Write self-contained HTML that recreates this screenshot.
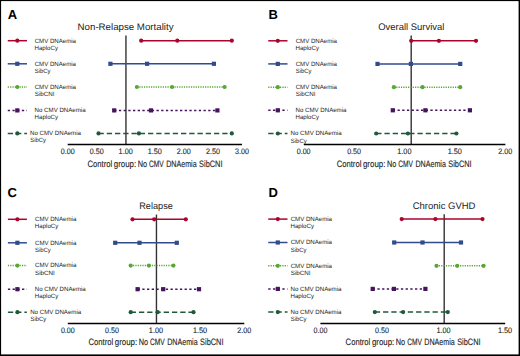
<!DOCTYPE html>
<html><head><meta charset="utf-8"><style>
html,body{margin:0;padding:0;background:#fff;width:520px;height:356px;overflow:hidden;}
svg{display:block;font-family:"Liberation Sans",sans-serif;text-rendering:geometricPrecision;}
</style></head><body>
<svg width="520" height="356" viewBox="0 0 520 356">
<rect x="0" y="0" width="520" height="356" fill="#fff"/>
<text x="7.8" y="18.7" font-size="13" font-weight="bold" fill="#000">A</text>
<text x="77.62" y="29.70" font-size="9.5" fill="#222" textLength="95.88" lengthAdjust="spacingAndGlyphs">Non-Relapse Mortality</text>
<line x1="125.95" y1="35.5" x2="125.95" y2="144.45" stroke="#333" stroke-width="1.4"/>
<line x1="67.7" y1="144.45" x2="242" y2="144.45" stroke="#000" stroke-width="1.5"/>
<text x="60.79" y="153.75" font-size="7.9" fill="#222" textLength="13.87" lengthAdjust="spacingAndGlyphs" stroke="#222" stroke-width="0.1">0.00</text>
<text x="89.84" y="153.75" font-size="7.9" fill="#222" textLength="13.87" lengthAdjust="spacingAndGlyphs" stroke="#222" stroke-width="0.1">0.50</text>
<text x="118.59" y="153.75" font-size="7.9" fill="#222" textLength="14.17" lengthAdjust="spacingAndGlyphs" stroke="#222" stroke-width="0.1">1.00</text>
<text x="147.64" y="153.75" font-size="7.9" fill="#222" textLength="14.17" lengthAdjust="spacingAndGlyphs" stroke="#222" stroke-width="0.1">1.50</text>
<text x="176.84" y="153.75" font-size="7.9" fill="#222" textLength="14.02" lengthAdjust="spacingAndGlyphs" stroke="#222" stroke-width="0.1">2.00</text>
<text x="205.89" y="153.75" font-size="7.9" fill="#222" textLength="14.02" lengthAdjust="spacingAndGlyphs" stroke="#222" stroke-width="0.1">2.50</text>
<text x="235.09" y="153.75" font-size="7.9" fill="#222" textLength="13.87" lengthAdjust="spacingAndGlyphs" stroke="#222" stroke-width="0.1">3.00</text>
<text x="87.52" y="167.00" font-size="9.2" fill="#222" textLength="24.66" lengthAdjust="spacingAndGlyphs" stroke="#222" stroke-width="0.12">Control</text>
<text x="113.78" y="167.00" font-size="9.2" fill="#222" textLength="22.41" lengthAdjust="spacingAndGlyphs" stroke="#222" stroke-width="0.12">group:</text>
<text x="137.71" y="167.00" font-size="9.2" fill="#222" textLength="9.35" lengthAdjust="spacingAndGlyphs" stroke="#222" stroke-width="0.12">No</text>
<text x="149.07" y="167.00" font-size="9.2" fill="#222" textLength="14.71" lengthAdjust="spacingAndGlyphs" stroke="#222" stroke-width="0.12">CMV</text>
<text x="166.23" y="167.00" font-size="9.2" fill="#222" textLength="30.44" lengthAdjust="spacingAndGlyphs" stroke="#222" stroke-width="0.12">DNAemia</text>
<text x="199.11" y="167.00" font-size="9.2" fill="#222" textLength="23.34" lengthAdjust="spacingAndGlyphs" stroke="#222" stroke-width="0.12">SibCNI</text>
<line x1="7.75" y1="40.7" x2="27" y2="40.7" stroke="#aa032c" stroke-width="1.5"/>
<circle cx="17.3" cy="40.7" r="2.1" fill="#aa032c"/>
<text x="34.70" y="42.55" font-size="6.2" fill="#222" textLength="41.28" lengthAdjust="spacingAndGlyphs">CMV DNAemia</text>
<text x="34.51" y="49.75" font-size="6.2" fill="#222" textLength="23.49" lengthAdjust="spacingAndGlyphs">HaploCy</text>
<line x1="141.2" y1="40.7" x2="231.8" y2="40.7" stroke="#aa032c" stroke-width="1.5"/>
<circle cx="141.2" cy="40.7" r="2.1" fill="#aa032c"/>
<circle cx="177.3" cy="40.7" r="2.1" fill="#aa032c"/>
<circle cx="231.8" cy="40.7" r="2.1" fill="#aa032c"/>
<line x1="7.75" y1="63.8" x2="27" y2="63.8" stroke="#2f4d8c" stroke-width="1.5"/>
<rect x="15.20" y="61.70" width="4.2" height="4.2" fill="#2f4d8c"/>
<text x="34.70" y="65.65" font-size="6.2" fill="#222" textLength="41.28" lengthAdjust="spacingAndGlyphs">CMV DNAemia</text>
<text x="34.76" y="72.85" font-size="6.2" fill="#222" textLength="15.74" lengthAdjust="spacingAndGlyphs">SibCy</text>
<line x1="110.4" y1="63.8" x2="213.9" y2="63.8" stroke="#2f4d8c" stroke-width="1.5"/>
<rect x="108.30" y="61.70" width="4.2" height="4.2" fill="#2f4d8c"/>
<rect x="145.00" y="61.70" width="4.2" height="4.2" fill="#2f4d8c"/>
<rect x="211.80" y="61.70" width="4.2" height="4.2" fill="#2f4d8c"/>
<line x1="7.75" y1="87" x2="27" y2="87" stroke="#58a633" stroke-width="1.5" stroke-dasharray="1.2 1.15"/>
<circle cx="17.3" cy="87" r="2.1" fill="#58a633"/>
<text x="34.70" y="88.85" font-size="6.2" fill="#222" textLength="41.28" lengthAdjust="spacingAndGlyphs">CMV DNAemia</text>
<text x="34.75" y="96.05" font-size="6.2" fill="#222" textLength="19.80" lengthAdjust="spacingAndGlyphs">SibCNI</text>
<line x1="136.9" y1="87" x2="224.6" y2="87" stroke="#58a633" stroke-width="1.5" stroke-dasharray="1.2 1.15"/>
<circle cx="136.9" cy="87" r="2.1" fill="#58a633"/>
<circle cx="172.1" cy="87" r="2.1" fill="#58a633"/>
<circle cx="224.6" cy="87" r="2.1" fill="#58a633"/>
<line x1="7.75" y1="110.4" x2="27" y2="110.4" stroke="#46135f" stroke-width="1.5" stroke-dasharray="2.3 2.4"/>
<rect x="15.20" y="108.30" width="4.2" height="4.2" fill="#46135f"/>
<text x="34.61" y="112.25" font-size="6.2" fill="#222" textLength="50.97" lengthAdjust="spacingAndGlyphs">No CMV DNAemia</text>
<text x="34.61" y="119.45" font-size="6.2" fill="#222" textLength="23.49" lengthAdjust="spacingAndGlyphs">HaploCy</text>
<line x1="114.2" y1="110.4" x2="217.4" y2="110.4" stroke="#46135f" stroke-width="1.5" stroke-dasharray="2.3 2.4"/>
<rect x="112.10" y="108.30" width="4.2" height="4.2" fill="#46135f"/>
<rect x="148.90" y="108.30" width="4.2" height="4.2" fill="#46135f"/>
<rect x="215.30" y="108.30" width="4.2" height="4.2" fill="#46135f"/>
<line x1="7.75" y1="133.4" x2="27" y2="133.4" stroke="#20583a" stroke-width="1.5" stroke-dasharray="5.3 2.95"/>
<circle cx="17.3" cy="133.4" r="2.1" fill="#20583a"/>
<text x="30.01" y="135.25" font-size="6.2" fill="#222" textLength="50.97" lengthAdjust="spacingAndGlyphs">No CMV DNAemia</text>
<text x="30.26" y="142.45" font-size="6.2" fill="#222" textLength="15.74" lengthAdjust="spacingAndGlyphs">SibCy</text>
<line x1="98.5" y1="133.4" x2="231.8" y2="133.4" stroke="#20583a" stroke-width="1.5" stroke-dasharray="5.3 2.95"/>
<circle cx="98.5" cy="133.4" r="2.1" fill="#20583a"/>
<circle cx="138.9" cy="133.4" r="2.1" fill="#20583a"/>
<circle cx="231.8" cy="133.4" r="2.1" fill="#20583a"/>
<text x="268.4" y="18.7" font-size="13" font-weight="bold" fill="#000">B</text>
<text x="378.22" y="29.90" font-size="9.5" fill="#222" textLength="66.17" lengthAdjust="spacingAndGlyphs">Overall Survival</text>
<line x1="411.2" y1="35.4" x2="411.2" y2="144.45" stroke="#333" stroke-width="1.4"/>
<line x1="303.8" y1="144.45" x2="505.4" y2="144.45" stroke="#000" stroke-width="1.5"/>
<text x="296.69" y="153.75" font-size="7.9" fill="#222" textLength="13.87" lengthAdjust="spacingAndGlyphs" stroke="#222" stroke-width="0.1">0.00</text>
<text x="347.14" y="153.75" font-size="7.9" fill="#222" textLength="13.87" lengthAdjust="spacingAndGlyphs" stroke="#222" stroke-width="0.1">0.50</text>
<text x="397.29" y="153.75" font-size="7.9" fill="#222" textLength="14.17" lengthAdjust="spacingAndGlyphs" stroke="#222" stroke-width="0.1">1.00</text>
<text x="447.74" y="153.75" font-size="7.9" fill="#222" textLength="14.17" lengthAdjust="spacingAndGlyphs" stroke="#222" stroke-width="0.1">1.50</text>
<text x="498.34" y="153.75" font-size="7.9" fill="#222" textLength="14.02" lengthAdjust="spacingAndGlyphs" stroke="#222" stroke-width="0.1">2.00</text>
<text x="336.72" y="167.00" font-size="9.2" fill="#222" textLength="24.66" lengthAdjust="spacingAndGlyphs" stroke="#222" stroke-width="0.12">Control</text>
<text x="362.98" y="167.00" font-size="9.2" fill="#222" textLength="22.41" lengthAdjust="spacingAndGlyphs" stroke="#222" stroke-width="0.12">group:</text>
<text x="386.91" y="167.00" font-size="9.2" fill="#222" textLength="9.35" lengthAdjust="spacingAndGlyphs" stroke="#222" stroke-width="0.12">No</text>
<text x="398.27" y="167.00" font-size="9.2" fill="#222" textLength="14.71" lengthAdjust="spacingAndGlyphs" stroke="#222" stroke-width="0.12">CMV</text>
<text x="415.43" y="167.00" font-size="9.2" fill="#222" textLength="30.44" lengthAdjust="spacingAndGlyphs" stroke="#222" stroke-width="0.12">DNAemia</text>
<text x="448.31" y="167.00" font-size="9.2" fill="#222" textLength="23.34" lengthAdjust="spacingAndGlyphs" stroke="#222" stroke-width="0.12">SibCNI</text>
<line x1="268.25" y1="40.8" x2="287.5" y2="40.8" stroke="#aa032c" stroke-width="1.5"/>
<circle cx="277.8" cy="40.8" r="2.1" fill="#aa032c"/>
<text x="295.70" y="42.65" font-size="6.2" fill="#222" textLength="41.28" lengthAdjust="spacingAndGlyphs">CMV DNAemia</text>
<text x="295.51" y="49.85" font-size="6.2" fill="#222" textLength="23.49" lengthAdjust="spacingAndGlyphs">HaploCy</text>
<line x1="411.2" y1="40.8" x2="476" y2="40.8" stroke="#aa032c" stroke-width="1.5"/>
<circle cx="411.2" cy="40.8" r="2.1" fill="#aa032c"/>
<circle cx="438.9" cy="40.8" r="2.1" fill="#aa032c"/>
<circle cx="476" cy="40.8" r="2.1" fill="#aa032c"/>
<line x1="268.25" y1="63.9" x2="287.5" y2="63.9" stroke="#2f4d8c" stroke-width="1.5"/>
<rect x="275.70" y="61.80" width="4.2" height="4.2" fill="#2f4d8c"/>
<text x="295.70" y="65.75" font-size="6.2" fill="#222" textLength="41.28" lengthAdjust="spacingAndGlyphs">CMV DNAemia</text>
<text x="295.76" y="72.95" font-size="6.2" fill="#222" textLength="15.74" lengthAdjust="spacingAndGlyphs">SibCy</text>
<line x1="377.5" y1="63.9" x2="460.2" y2="63.9" stroke="#2f4d8c" stroke-width="1.5"/>
<rect x="375.40" y="61.80" width="4.2" height="4.2" fill="#2f4d8c"/>
<rect x="408.80" y="61.80" width="4.2" height="4.2" fill="#2f4d8c"/>
<rect x="458.10" y="61.80" width="4.2" height="4.2" fill="#2f4d8c"/>
<line x1="268.25" y1="87.2" x2="287.5" y2="87.2" stroke="#58a633" stroke-width="1.5" stroke-dasharray="1.2 1.15"/>
<circle cx="277.8" cy="87.2" r="2.1" fill="#58a633"/>
<text x="295.70" y="89.05" font-size="6.2" fill="#222" textLength="41.28" lengthAdjust="spacingAndGlyphs">CMV DNAemia</text>
<text x="295.75" y="96.25" font-size="6.2" fill="#222" textLength="19.80" lengthAdjust="spacingAndGlyphs">SibCNI</text>
<line x1="393.9" y1="87.2" x2="460.2" y2="87.2" stroke="#58a633" stroke-width="1.5" stroke-dasharray="1.2 1.15"/>
<circle cx="393.9" cy="87.2" r="2.1" fill="#58a633"/>
<circle cx="422.5" cy="87.2" r="2.1" fill="#58a633"/>
<circle cx="460.2" cy="87.2" r="2.1" fill="#58a633"/>
<line x1="268.25" y1="110.3" x2="287.5" y2="110.3" stroke="#46135f" stroke-width="1.5" stroke-dasharray="2.3 2.4"/>
<rect x="275.70" y="108.20" width="4.2" height="4.2" fill="#46135f"/>
<text x="295.51" y="112.15" font-size="6.2" fill="#222" textLength="50.97" lengthAdjust="spacingAndGlyphs">No CMV DNAemia</text>
<text x="295.51" y="119.35" font-size="6.2" fill="#222" textLength="23.49" lengthAdjust="spacingAndGlyphs">HaploCy</text>
<line x1="392.8" y1="110.3" x2="469.9" y2="110.3" stroke="#46135f" stroke-width="1.5" stroke-dasharray="2.3 2.4"/>
<rect x="390.70" y="108.20" width="4.2" height="4.2" fill="#46135f"/>
<rect x="423.30" y="108.20" width="4.2" height="4.2" fill="#46135f"/>
<rect x="467.80" y="108.20" width="4.2" height="4.2" fill="#46135f"/>
<line x1="268.25" y1="133.5" x2="287.5" y2="133.5" stroke="#20583a" stroke-width="1.5" stroke-dasharray="5.3 2.95"/>
<circle cx="277.8" cy="133.5" r="2.1" fill="#20583a"/>
<text x="290.61" y="135.35" font-size="6.2" fill="#222" textLength="50.97" lengthAdjust="spacingAndGlyphs">No CMV DNAemia</text>
<text x="290.86" y="142.55" font-size="6.2" fill="#222" textLength="15.74" lengthAdjust="spacingAndGlyphs">SibCy</text>
<line x1="376.2" y1="133.5" x2="456.4" y2="133.5" stroke="#20583a" stroke-width="1.5" stroke-dasharray="5.3 2.95"/>
<circle cx="376.2" cy="133.5" r="2.1" fill="#20583a"/>
<circle cx="407.9" cy="133.5" r="2.1" fill="#20583a"/>
<circle cx="456.4" cy="133.5" r="2.1" fill="#20583a"/>
<text x="7.4" y="196.9" font-size="13" font-weight="bold" fill="#000">C</text>
<text x="139.27" y="208.70" font-size="9.5" fill="#222" textLength="33.56" lengthAdjust="spacingAndGlyphs">Relapse</text>
<line x1="156.45" y1="214.6" x2="156.45" y2="323.4" stroke="#333" stroke-width="1.4"/>
<line x1="67.8" y1="323.4" x2="244.3" y2="323.4" stroke="#000" stroke-width="1.5"/>
<text x="60.89" y="332.70" font-size="7.9" fill="#222" textLength="13.87" lengthAdjust="spacingAndGlyphs" stroke="#222" stroke-width="0.1">0.00</text>
<text x="105.01" y="332.70" font-size="7.9" fill="#222" textLength="13.87" lengthAdjust="spacingAndGlyphs" stroke="#222" stroke-width="0.1">0.50</text>
<text x="148.84" y="332.70" font-size="7.9" fill="#222" textLength="14.17" lengthAdjust="spacingAndGlyphs" stroke="#222" stroke-width="0.1">1.00</text>
<text x="192.97" y="332.70" font-size="7.9" fill="#222" textLength="14.17" lengthAdjust="spacingAndGlyphs" stroke="#222" stroke-width="0.1">1.50</text>
<text x="237.24" y="332.70" font-size="7.9" fill="#222" textLength="14.02" lengthAdjust="spacingAndGlyphs" stroke="#222" stroke-width="0.1">2.00</text>
<text x="88.52" y="345.40" font-size="9.2" fill="#222" textLength="24.66" lengthAdjust="spacingAndGlyphs" stroke="#222" stroke-width="0.12">Control</text>
<text x="114.78" y="345.40" font-size="9.2" fill="#222" textLength="22.41" lengthAdjust="spacingAndGlyphs" stroke="#222" stroke-width="0.12">group:</text>
<text x="138.71" y="345.40" font-size="9.2" fill="#222" textLength="9.35" lengthAdjust="spacingAndGlyphs" stroke="#222" stroke-width="0.12">No</text>
<text x="150.07" y="345.40" font-size="9.2" fill="#222" textLength="14.71" lengthAdjust="spacingAndGlyphs" stroke="#222" stroke-width="0.12">CMV</text>
<text x="167.23" y="345.40" font-size="9.2" fill="#222" textLength="30.44" lengthAdjust="spacingAndGlyphs" stroke="#222" stroke-width="0.12">DNAemia</text>
<text x="200.11" y="345.40" font-size="9.2" fill="#222" textLength="23.34" lengthAdjust="spacingAndGlyphs" stroke="#222" stroke-width="0.12">SibCNI</text>
<line x1="7.9" y1="219.3" x2="26.9" y2="219.3" stroke="#aa032c" stroke-width="1.5"/>
<circle cx="17.4" cy="219.3" r="2.1" fill="#aa032c"/>
<text x="35.00" y="221.15" font-size="6.2" fill="#222" textLength="41.28" lengthAdjust="spacingAndGlyphs">CMV DNAemia</text>
<text x="34.81" y="228.35" font-size="6.2" fill="#222" textLength="23.49" lengthAdjust="spacingAndGlyphs">HaploCy</text>
<line x1="132.5" y1="219.3" x2="185.8" y2="219.3" stroke="#aa032c" stroke-width="1.5"/>
<circle cx="132.5" cy="219.3" r="2.1" fill="#aa032c"/>
<circle cx="154.2" cy="219.3" r="2.1" fill="#aa032c"/>
<circle cx="185.8" cy="219.3" r="2.1" fill="#aa032c"/>
<line x1="7.9" y1="242.8" x2="26.9" y2="242.8" stroke="#2f4d8c" stroke-width="1.5"/>
<rect x="15.30" y="240.70" width="4.2" height="4.2" fill="#2f4d8c"/>
<text x="35.00" y="244.65" font-size="6.2" fill="#222" textLength="41.28" lengthAdjust="spacingAndGlyphs">CMV DNAemia</text>
<text x="35.06" y="251.85" font-size="6.2" fill="#222" textLength="15.74" lengthAdjust="spacingAndGlyphs">SibCy</text>
<line x1="115.2" y1="242.8" x2="176.8" y2="242.8" stroke="#2f4d8c" stroke-width="1.5"/>
<rect x="113.10" y="240.70" width="4.2" height="4.2" fill="#2f4d8c"/>
<rect x="137.40" y="240.70" width="4.2" height="4.2" fill="#2f4d8c"/>
<rect x="174.70" y="240.70" width="4.2" height="4.2" fill="#2f4d8c"/>
<line x1="7.9" y1="265.6" x2="26.9" y2="265.6" stroke="#58a633" stroke-width="1.5" stroke-dasharray="1.2 1.15"/>
<circle cx="17.4" cy="265.6" r="2.1" fill="#58a633"/>
<text x="35.00" y="267.45" font-size="6.2" fill="#222" textLength="41.28" lengthAdjust="spacingAndGlyphs">CMV DNAemia</text>
<text x="35.05" y="274.65" font-size="6.2" fill="#222" textLength="19.80" lengthAdjust="spacingAndGlyphs">SibCNI</text>
<line x1="130.7" y1="265.6" x2="173.4" y2="265.6" stroke="#58a633" stroke-width="1.5" stroke-dasharray="1.2 1.15"/>
<circle cx="130.7" cy="265.6" r="2.1" fill="#58a633"/>
<circle cx="148.9" cy="265.6" r="2.1" fill="#58a633"/>
<circle cx="173.4" cy="265.6" r="2.1" fill="#58a633"/>
<line x1="7.9" y1="289.2" x2="26.9" y2="289.2" stroke="#46135f" stroke-width="1.5" stroke-dasharray="2.3 2.4"/>
<rect x="15.30" y="287.10" width="4.2" height="4.2" fill="#46135f"/>
<text x="34.81" y="291.05" font-size="6.2" fill="#222" textLength="50.97" lengthAdjust="spacingAndGlyphs">No CMV DNAemia</text>
<text x="34.81" y="298.25" font-size="6.2" fill="#222" textLength="23.49" lengthAdjust="spacingAndGlyphs">HaploCy</text>
<line x1="137.6" y1="289.2" x2="199" y2="289.2" stroke="#46135f" stroke-width="1.5" stroke-dasharray="2.3 2.4"/>
<rect x="135.50" y="287.10" width="4.2" height="4.2" fill="#46135f"/>
<rect x="161.10" y="287.10" width="4.2" height="4.2" fill="#46135f"/>
<rect x="196.90" y="287.10" width="4.2" height="4.2" fill="#46135f"/>
<line x1="7.9" y1="312.2" x2="26.9" y2="312.2" stroke="#20583a" stroke-width="1.5" stroke-dasharray="5.3 2.95"/>
<circle cx="17.4" cy="312.2" r="2.1" fill="#20583a"/>
<text x="30.21" y="314.05" font-size="6.2" fill="#222" textLength="50.97" lengthAdjust="spacingAndGlyphs">No CMV DNAemia</text>
<text x="30.46" y="321.25" font-size="6.2" fill="#222" textLength="15.74" lengthAdjust="spacingAndGlyphs">SibCy</text>
<line x1="130.7" y1="312.2" x2="193.5" y2="312.2" stroke="#20583a" stroke-width="1.5" stroke-dasharray="5.3 2.95"/>
<circle cx="130.7" cy="312.2" r="2.1" fill="#20583a"/>
<circle cx="157.7" cy="312.2" r="2.1" fill="#20583a"/>
<circle cx="193.5" cy="312.2" r="2.1" fill="#20583a"/>
<text x="268.4" y="197.0" font-size="13" font-weight="bold" fill="#000">D</text>
<text x="412.73" y="208.70" font-size="9.5" fill="#222" textLength="62.67" lengthAdjust="spacingAndGlyphs">Chronic GVHD</text>
<line x1="444.2" y1="214.2" x2="444.2" y2="323.4" stroke="#333" stroke-width="1.4"/>
<line x1="320.4" y1="323.4" x2="505.2" y2="323.4" stroke="#000" stroke-width="1.5"/>
<text x="313.49" y="332.70" font-size="7.9" fill="#222" textLength="13.87" lengthAdjust="spacingAndGlyphs" stroke="#222" stroke-width="0.1">0.00</text>
<text x="375.09" y="332.70" font-size="7.9" fill="#222" textLength="13.87" lengthAdjust="spacingAndGlyphs" stroke="#222" stroke-width="0.1">0.50</text>
<text x="436.39" y="332.70" font-size="7.9" fill="#222" textLength="14.17" lengthAdjust="spacingAndGlyphs" stroke="#222" stroke-width="0.1">1.00</text>
<text x="497.99" y="332.70" font-size="7.9" fill="#222" textLength="14.17" lengthAdjust="spacingAndGlyphs" stroke="#222" stroke-width="0.1">1.50</text>
<text x="345.62" y="345.40" font-size="9.2" fill="#222" textLength="24.66" lengthAdjust="spacingAndGlyphs" stroke="#222" stroke-width="0.12">Control</text>
<text x="371.88" y="345.40" font-size="9.2" fill="#222" textLength="22.41" lengthAdjust="spacingAndGlyphs" stroke="#222" stroke-width="0.12">group:</text>
<text x="395.81" y="345.40" font-size="9.2" fill="#222" textLength="9.35" lengthAdjust="spacingAndGlyphs" stroke="#222" stroke-width="0.12">No</text>
<text x="407.17" y="345.40" font-size="9.2" fill="#222" textLength="14.71" lengthAdjust="spacingAndGlyphs" stroke="#222" stroke-width="0.12">CMV</text>
<text x="424.33" y="345.40" font-size="9.2" fill="#222" textLength="30.44" lengthAdjust="spacingAndGlyphs" stroke="#222" stroke-width="0.12">DNAemia</text>
<text x="457.21" y="345.40" font-size="9.2" fill="#222" textLength="23.34" lengthAdjust="spacingAndGlyphs" stroke="#222" stroke-width="0.12">SibCNI</text>
<line x1="268.25" y1="219.1" x2="287.5" y2="219.1" stroke="#aa032c" stroke-width="1.5"/>
<circle cx="277.8" cy="219.1" r="2.1" fill="#aa032c"/>
<text x="290.70" y="220.95" font-size="6.2" fill="#222" textLength="41.28" lengthAdjust="spacingAndGlyphs">CMV DNAemia</text>
<text x="290.51" y="228.15" font-size="6.2" fill="#222" textLength="23.49" lengthAdjust="spacingAndGlyphs">HaploCy</text>
<line x1="401.7" y1="219.1" x2="482.5" y2="219.1" stroke="#aa032c" stroke-width="1.5"/>
<circle cx="401.7" cy="219.1" r="2.1" fill="#aa032c"/>
<circle cx="435.4" cy="219.1" r="2.1" fill="#aa032c"/>
<circle cx="482.5" cy="219.1" r="2.1" fill="#aa032c"/>
<line x1="268.25" y1="242.5" x2="287.5" y2="242.5" stroke="#2f4d8c" stroke-width="1.5"/>
<rect x="275.70" y="240.40" width="4.2" height="4.2" fill="#2f4d8c"/>
<text x="290.70" y="244.35" font-size="6.2" fill="#222" textLength="41.28" lengthAdjust="spacingAndGlyphs">CMV DNAemia</text>
<text x="290.76" y="251.55" font-size="6.2" fill="#222" textLength="15.74" lengthAdjust="spacingAndGlyphs">SibCy</text>
<line x1="394.2" y1="242.5" x2="461" y2="242.5" stroke="#2f4d8c" stroke-width="1.5"/>
<rect x="392.10" y="240.40" width="4.2" height="4.2" fill="#2f4d8c"/>
<rect x="420.40" y="240.40" width="4.2" height="4.2" fill="#2f4d8c"/>
<rect x="458.90" y="240.40" width="4.2" height="4.2" fill="#2f4d8c"/>
<line x1="268.25" y1="265.8" x2="287.5" y2="265.8" stroke="#58a633" stroke-width="1.5" stroke-dasharray="1.2 1.15"/>
<circle cx="277.8" cy="265.8" r="2.1" fill="#58a633"/>
<text x="290.70" y="267.65" font-size="6.2" fill="#222" textLength="41.28" lengthAdjust="spacingAndGlyphs">CMV DNAemia</text>
<text x="290.75" y="274.85" font-size="6.2" fill="#222" textLength="19.80" lengthAdjust="spacingAndGlyphs">SibCNI</text>
<line x1="436.5" y1="265.8" x2="483.6" y2="265.8" stroke="#58a633" stroke-width="1.5" stroke-dasharray="1.2 1.15"/>
<circle cx="436.5" cy="265.8" r="2.1" fill="#58a633"/>
<circle cx="457.2" cy="265.8" r="2.1" fill="#58a633"/>
<circle cx="483.6" cy="265.8" r="2.1" fill="#58a633"/>
<line x1="268.25" y1="288.9" x2="287.5" y2="288.9" stroke="#46135f" stroke-width="1.5" stroke-dasharray="2.3 2.4"/>
<rect x="275.70" y="286.80" width="4.2" height="4.2" fill="#46135f"/>
<text x="290.51" y="290.75" font-size="6.2" fill="#222" textLength="50.97" lengthAdjust="spacingAndGlyphs">No CMV DNAemia</text>
<text x="290.51" y="297.95" font-size="6.2" fill="#222" textLength="23.49" lengthAdjust="spacingAndGlyphs">HaploCy</text>
<line x1="372.7" y1="288.9" x2="425.4" y2="288.9" stroke="#46135f" stroke-width="1.5" stroke-dasharray="2.3 2.4"/>
<rect x="370.60" y="286.80" width="4.2" height="4.2" fill="#46135f"/>
<rect x="391.80" y="286.80" width="4.2" height="4.2" fill="#46135f"/>
<rect x="423.30" y="286.80" width="4.2" height="4.2" fill="#46135f"/>
<line x1="268.25" y1="312.1" x2="287.5" y2="312.1" stroke="#20583a" stroke-width="1.5" stroke-dasharray="5.3 2.95"/>
<circle cx="277.8" cy="312.1" r="2.1" fill="#20583a"/>
<text x="290.51" y="313.95" font-size="6.2" fill="#222" textLength="50.97" lengthAdjust="spacingAndGlyphs">No CMV DNAemia</text>
<text x="290.76" y="321.15" font-size="6.2" fill="#222" textLength="15.74" lengthAdjust="spacingAndGlyphs">SibCy</text>
<line x1="374.8" y1="312.1" x2="447.8" y2="312.1" stroke="#20583a" stroke-width="1.5" stroke-dasharray="5.3 2.95"/>
<circle cx="374.8" cy="312.1" r="2.1" fill="#20583a"/>
<circle cx="403.1" cy="312.1" r="2.1" fill="#20583a"/>
<circle cx="447.8" cy="312.1" r="2.1" fill="#20583a"/>
<rect x="0" y="0" width="520" height="1.1" fill="#000"/>
<rect x="0" y="0" width="1.1" height="356" fill="#000"/>
<rect x="518.6" y="0" width="1.4" height="356" fill="#000"/>
<rect x="0" y="354.4" width="520" height="1.6" fill="#000"/>
</svg>
</body></html>
